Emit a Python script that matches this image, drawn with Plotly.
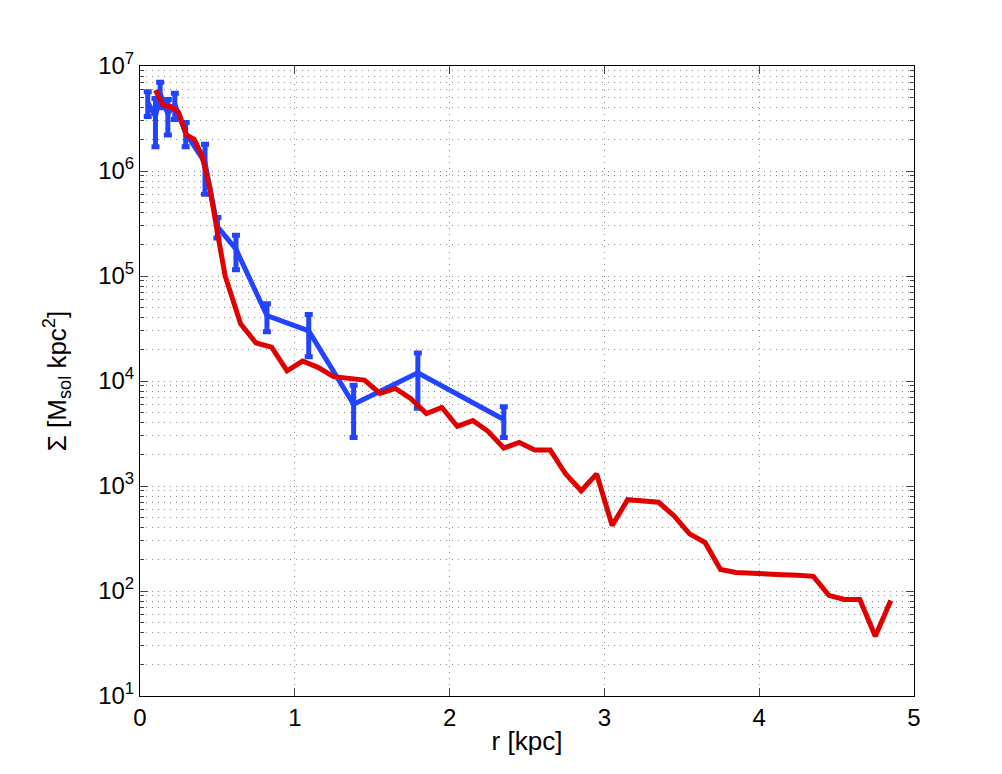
import plotly.graph_objects as go

# simulated surface density profile (red)
r_sim = [0.10, 0.15, 0.20, 0.25, 0.30, 0.35, 0.40, 0.45, 0.50, 0.55, 0.65, 0.75, 0.85, 0.95,
         1.05, 1.15, 1.25, 1.35, 1.45, 1.55, 1.65, 1.75, 1.85, 1.95, 2.05, 2.15, 2.25,
         2.35, 2.45, 2.55, 2.65, 2.75, 2.85, 2.95, 3.05, 3.15, 3.25, 3.35, 3.45, 3.55,
         3.65, 3.75, 3.85, 3.95, 4.05, 4.15, 4.25, 4.35, 4.45, 4.55, 4.65, 4.75, 4.85]
sigma_sim = [5.9e6, 4.2e6, 4.1e6, 3.6e6, 2.2e6, 2.0e6, 1.4e6, 7.0e5, 2.6e5, 1.0e5, 3.5e4,
             2.3e4, 2.1e4, 1.25e4, 1.55e4, 1.35e4, 1.1e4, 1.07e4, 1.02e4, 7.6e3, 8.5e3,
             6.8e3, 4.9e3, 5.6e3, 3.7e3, 4.2e3, 3.3e3, 2.3e3, 2.6e3, 2.2e3, 2.2e3, 1.3e3,
             9.0e2, 1.3e3, 4.2e2, 7.4e2, 7.2e2, 7.0e2, 5.2e2, 3.5e2, 2.9e2, 1.6e2, 1.5e2,
             1.49e2, 1.46e2, 1.43e2, 1.41e2, 1.38e2, 9.1e1, 8.3e1, 8.3e1, 3.7e1, 8.1e1]

# observed profile with errors (blue)
r_obs = [0.05, 0.10, 0.13, 0.18, 0.225, 0.295, 0.42, 0.50, 0.62, 0.82, 1.09, 1.38, 1.795, 2.35]
sigma_obs = [4.5e6, 3.3e6, 5.5e6, 3.5e6, 4.3e6, 2.3e6, 1.2e6, 2.95e5, 1.8e5, 4.2e4, 3.0e4,
             6.0e3, 1.2e4, 4.3e3]
sigma_err = [1.2e6, 1.6e6, 1.5e6, 1.3e6, 1.2e6, 0.6e6, 0.6e6, 0.65e5, 0.65e5, 1.25e4, 1.3e4,
             3.1e3, 6.5e3, 1.4e3]

x_ticks = [0, 1, 2, 3, 4, 5]
y_ticks = [1e1, 1e2, 1e3, 1e4, 1e5, 1e6, 1e7]
y_ticktext = ["10<sup>%d</sup>" % p for p in range(1, 8)]
y_minor = [m * 10 ** p for p in range(1, 7) for m in range(2, 10)]

fig = go.Figure()

fig.add_trace(go.Scatter(x=r_obs, y=sigma_obs, mode="lines",
                         line=dict(color="#2244ff", width=5),
                         error_y=dict(type="data", array=sigma_err, visible=True,
                                      color="#2244ff", thickness=5, width=4),
                         showlegend=False))
fig.add_trace(go.Scatter(x=r_sim, y=sigma_sim, mode="lines",
                         line=dict(color="#e00000", width=5),
                         showlegend=False))

tick_font = dict(family="Liberation Sans, Arial, sans-serif", size=24, color="black")
title_font = dict(family="Liberation Sans, Arial, sans-serif", size=26, color="black")
grid = dict(showgrid=True, gridcolor="#8c8c8c", griddash="1px,5px", gridwidth=1)

fig.update_xaxes(range=[0, 5], tickvals=x_ticks, ticks="inside", ticklen=8,
                 showline=True, linecolor="black", linewidth=1, mirror="allticks",
                 zeroline=False, tickfont=tick_font, **grid,
                 title=dict(text="r [kpc]", font=title_font, standoff=2))
fig.update_yaxes(type="log", range=[1, 7], tickvals=y_ticks, ticktext=y_ticktext,
                 ticks="inside", ticklen=8,
                 showline=True, linecolor="black", linewidth=1, mirror="allticks",
                 minor=dict(tickvals=y_minor, ticks="inside", ticklen=4, **grid),
                 zeroline=False, tickfont=tick_font, **grid,
                 title=dict(text="\u03a3 [M<sub>sol</sub> kpc<sup>2</sup>]", font=title_font,
                            standoff=24))

fig.update_layout(width=1002, height=774,
                  margin=dict(l=132, r=96, t=58, b=86),
                  paper_bgcolor="white", plot_bgcolor="white")

fig.write_html("out.html")
